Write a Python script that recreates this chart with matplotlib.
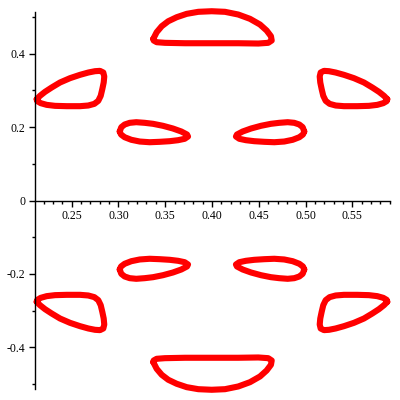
import numpy as np
import matplotlib.pyplot as plt

# loops (upper-left quadrant, plus the top cap)
outer_x = [0.2127, 0.2162, 0.2216, 0.2287, 0.2376, 0.2483, 0.2590, 0.2679,
           0.2750, 0.2803, 0.2839, 0.2849, 0.2843, 0.2828, 0.2811, 0.2785,
           0.2743, 0.2678, 0.2590, 0.2448, 0.2323, 0.2234, 0.2170, 0.2134]
outer_y = [0.2757, 0.2848, 0.2957, 0.3075, 0.3211, 0.3329, 0.3420, 0.3483,
           0.3519, 0.3528, 0.3483, 0.3374, 0.3211, 0.3029, 0.2848, 0.2712,
           0.2630, 0.2585, 0.2567, 0.2567, 0.2576, 0.2603, 0.2649, 0.2703]

inner_x = [0.3014, 0.3031, 0.3067, 0.3121, 0.3191, 0.3281, 0.3370, 0.3476,
           0.3583, 0.3672, 0.3733, 0.3744, 0.3708, 0.3637, 0.3548, 0.3441,
           0.3334, 0.3228, 0.3138, 0.3067, 0.3028]
inner_y = [0.1878, 0.1995, 0.2068, 0.2114, 0.2131, 0.2114, 0.2087, 0.2033,
           0.1959, 0.1878, 0.1796, 0.1741, 0.1679, 0.1641, 0.1614, 0.1597,
           0.1586, 0.1605, 0.1652, 0.1722, 0.1796]

cap_x = [0.3373, 0.3409, 0.3463, 0.3533, 0.3623, 0.3730, 0.3854, 0.3997,
         0.4139, 0.4281, 0.4406, 0.4513, 0.4584, 0.4630, 0.4638, 0.4601,
         0.4495, 0.4281, 0.3997, 0.3712, 0.3498, 0.3409, 0.3377]
cap_y = [0.4400, 0.4580, 0.4743, 0.4879, 0.4988, 0.5080, 0.5135, 0.5151,
         0.5135, 0.5061, 0.4944, 0.4789, 0.4626, 0.4471, 0.4354, 0.4291,
         0.4272, 0.4280, 0.4280, 0.4280, 0.4291, 0.4308, 0.4354]

xticks = [0.25, 0.30, 0.35, 0.40, 0.45, 0.50, 0.55]
yticks = [-0.4, -0.2, 0, 0.2, 0.4]
ylabels = ['-0.4', '-0.2', '0', '0.2', '0.4']

plt.rcParams['font.family'] = ['Liberation Serif', 'DejaVu Serif']

fig = plt.figure(figsize=(4, 4), dpi=100)
ax = fig.add_axes([0.0875, 0.0275, 0.8875, 0.9425])


def loop(xs, ys):
    xs = np.append(xs, xs[0])
    ys = np.append(ys, ys[0])
    ax.plot(xs, ys, color='red', lw=4.4, solid_joinstyle='round',
            solid_capstyle='round', clip_on=False)


ox = np.array(outer_x); oy = np.array(outer_y)
ix = np.array(inner_x); iy = np.array(inner_y)
cx = np.array(cap_x); cy = np.array(cap_y)
for sx in (1, -1):
    for sy in (1, -1):
        mx = 0.8 - ox if sx < 0 else ox
        loop(mx, sy * oy)
        mx = 0.8 - ix if sx < 0 else ix
        loop(mx, sy * iy)
loop(cx, cy)
loop(cx, -cy)

ax.set_xlim(0.2109, 0.5902)
ax.set_ylim(-0.513, 0.513)
ax.spines['top'].set_visible(False)
ax.spines['right'].set_visible(False)
ax.spines['bottom'].set_position(('data', 0))
for s in ('left', 'bottom'):
    ax.spines[s].set_linewidth(1.0)

ax.set_xticks(xticks)
ax.set_xticklabels(['%.2f' % v for v in xticks])
ax.set_xticks(np.arange(0.22, 0.595, 0.01), minor=True)
ax.set_yticks(yticks)
ax.set_yticklabels(ylabels)
ax.set_yticks([-0.5, -0.3, -0.1, 0.1, 0.3, 0.5], minor=True)
ax.tick_params(which='major', length=4, width=1, pad=3, labelsize=8.5)
ax.tick_params(which='minor', length=2.5, width=1)

fig.savefig('out.png', dpi=100)
